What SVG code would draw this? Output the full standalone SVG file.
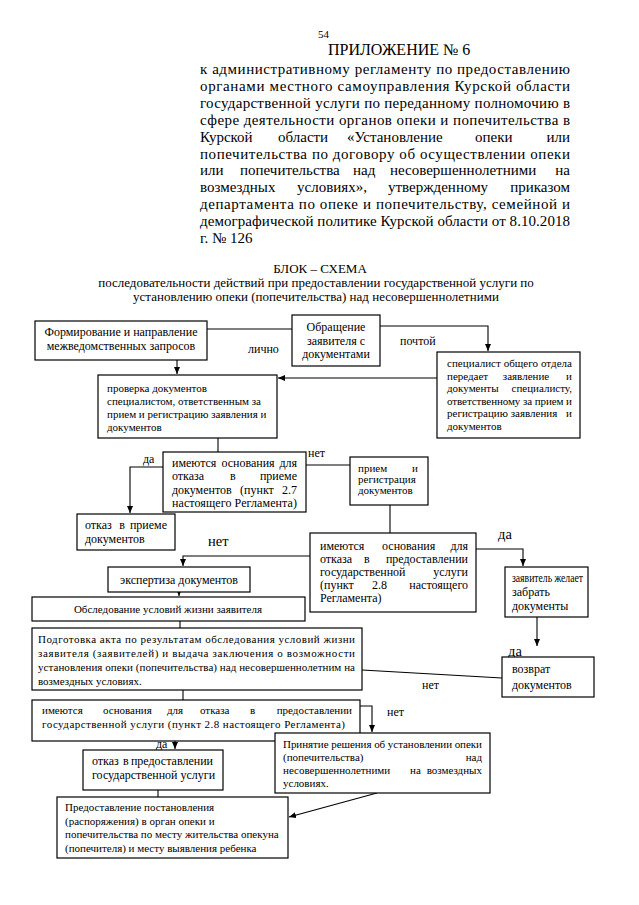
<svg xmlns="http://www.w3.org/2000/svg" width="639" height="905" viewBox="0 0 639 905">
<style>
text{font-family:"Liberation Serif","Times New Roman",serif;fill:#000}
.h{font-size:15px}
.s{font-size:13px}
.f11{font-size:11px}
.f12{font-size:12px}
.f14{font-size:14.5px}
.b{fill:#fff;stroke:#000;stroke-width:1.2}
.c path{fill:none;stroke:#000;stroke-width:1.1}
.a{marker-end:url(#ar)}
</style>
<defs>
<marker id="ar" markerUnits="userSpaceOnUse" markerWidth="8" markerHeight="8" refX="7" refY="3" orient="auto">
<path d="M0,0 L7,3 L0,6 Z" fill="#000"/>
</marker>
</defs>
<rect width="639" height="905" fill="#fff"/>

<g id="header">
<text x="318" y="38" style="font-size:11px">54</text>
<text x="328" y="55" style="font-size:16px">ПРИЛОЖЕНИЕ № 6</text>
<text class="h" x="200" y="74.3" textLength="370" lengthAdjust="spacing">к административному регламенту по предоставлению</text>
<text class="h" x="200" y="91.2" textLength="370" lengthAdjust="spacing">органами местного самоуправления Курской области</text>
<text class="h" x="200" y="108" textLength="370" lengthAdjust="spacing">государственной услуги по переданному полномочию в</text>
<text class="h" x="200" y="124.8" textLength="370" lengthAdjust="spacing">сфере деятельности органов опеки и попечительства в</text>
<text class="h" y="141.6"><tspan x="200">Курской</tspan><tspan x="278">области</tspan><tspan x="347">«Установление</tspan><tspan x="475">опеки</tspan><tspan x="570" text-anchor="end">или</tspan></text>
<text class="h" x="200" y="158.5" textLength="370" lengthAdjust="spacing">попечительства по договору об осуществлении опеки</text>
<text class="h" y="175.3"><tspan x="200">или</tspan><tspan x="240">попечительства</tspan><tspan x="353">над</tspan><tspan x="390">несовершеннолетними</tspan><tspan x="570" text-anchor="end">на</tspan></text>
<text class="h" y="192.1"><tspan x="200">возмездных</tspan><tspan x="297">условиях»,</tspan><tspan x="388">утвержденному</tspan><tspan x="570" text-anchor="end">приказом</tspan></text>
<text class="h" x="200" y="209" textLength="370" lengthAdjust="spacing">департамента по опеке и попечительству, семейной и</text>
<text class="h" x="200" y="225.8" textLength="370" lengthAdjust="spacing">демографической политике Курской области от 8.10.2018</text>
<text class="h" x="200" y="242.6">г. № 126</text>
<text class="s" x="320" y="273" text-anchor="middle">БЛОК – СХЕМА</text>
<text class="s" x="316" y="287" text-anchor="middle">последовательности действий при предоставлении государственной услуги по</text>
<text class="s" x="316" y="301" text-anchor="middle">установлению опеки (попечительства) над несовершеннолетними</text>
</g>

<g id="connectors" class="c">
<path d="M207,329 H292"/>
<path class="a" d="M380,326 H488 V351"/>
<path class="a" d="M437,378 H278"/>
<path class="a" d="M177,360 V374"/>
<path d="M218,438 V452"/>
<path class="a" d="M163,467 H130 V513"/>
<path d="M306,465 H350"/>
<path d="M390,505 V533"/>
<path class="a" d="M310,556 H183 V566"/>
<path class="a" d="M476,549 H523 V566"/>
<path class="a" d="M179,592 V596"/>
<path d="M180,621 V628"/>
<path class="a" d="M537,617 V646"/>
<path d="M362,670 L502,678"/>
<path d="M183,690 V700"/>
<path class="a" d="M360,706 H372 V732"/>
<path class="a" d="M175,741 V749"/>
<path d="M158,790 V797"/>
<path class="a" d="M377,793 L289,817"/>
</g>

<g id="labels">
<text class="f12" x="248" y="353">лично</text>
<text class="f12" x="400" y="345">почтой</text>
<text class="f12" x="143" y="463">да</text>
<text class="f12" x="308" y="457">нет</text>
<text class="f14" x="208" y="546">нет</text>
<text class="f14" x="498" y="539">да</text>
<text class="f14" x="508" y="656">да</text>
<text class="f12" x="422" y="689">нет</text>
<text class="f12" x="387" y="716">нет</text>
<text class="f12" x="156" y="748">да</text>
</g>

<g id="nodeA">
<rect class="b" x="35" y="321" width="172" height="39"/>
<text class="f12" x="121" y="336" text-anchor="middle">Формирование и направление</text>
<text class="f12" x="121" y="350" text-anchor="middle">межведомственных запросов</text>
</g>

<g id="nodeB">
<rect class="b" x="292" y="315" width="88" height="51"/>
<text class="f12" x="336" y="331" text-anchor="middle">Обращение</text>
<text class="f12" x="336" y="345" text-anchor="middle">заявителя с</text>
<text class="f12" x="336" y="358" text-anchor="middle">документами</text>
</g>

<g id="nodeC">
<rect class="b" x="437" y="352" width="143" height="86"/>
<text class="f11" x="447" y="367" textLength="125" lengthAdjust="spacing">специалист общего отдела</text>
<text class="f11" y="379.5"><tspan x="447">передает</tspan><tspan x="526" text-anchor="middle">заявление</tspan><tspan x="572" text-anchor="end">и</tspan></text>
<text class="f11" y="392"><tspan x="447">документы</tspan><tspan x="572" text-anchor="end">специалисту,</tspan></text>
<text class="f11" x="447" y="404.5" textLength="125" lengthAdjust="spacing">ответственному за прием и</text>
<text class="f11" y="417"><tspan x="447">регистрацию</tspan><tspan x="534" text-anchor="middle">заявления</tspan><tspan x="572" text-anchor="end">и</tspan></text>
<text class="f11" x="447" y="429.5">документов</text>
</g>

<g id="nodeD">
<rect class="b" x="98" y="375" width="179" height="63"/>
<text class="f11" x="107" y="392">проверка документов</text>
<text class="f11" x="107" y="405">специалистом, ответственным за</text>
<text class="f11" x="107" y="418">прием и регистрацию заявления и</text>
<text class="f11" x="107" y="431">документов</text>
</g>

<g id="nodeE">
<rect class="b" x="163" y="452" width="143" height="60"/>
<text class="f12" y="467"><tspan x="172">имеются</tspan><tspan x="248" text-anchor="middle">основания</tspan><tspan x="297" text-anchor="end">для</tspan></text>
<text class="f12" y="480"><tspan x="172">отказа</tspan><tspan x="230">в</tspan><tspan x="297" text-anchor="end">приеме</tspan></text>
<text class="f12" y="493.5"><tspan x="172">документов</tspan><tspan x="257" text-anchor="middle">(пункт</tspan><tspan x="297" text-anchor="end">2.7</tspan></text>
<text class="f12" x="172" y="507" textLength="125" lengthAdjust="spacing">настоящего Регламента)</text>
</g>

<g id="nodeF">
<rect class="b" x="77" y="514" width="98" height="36"/>
<text class="f12" y="529"><tspan x="85">отказ</tspan><tspan x="122" text-anchor="middle">в</tspan><tspan x="167" text-anchor="end">приеме</tspan></text>
<text class="f12" x="85" y="543">документов</text>
</g>

<g id="nodeG">
<rect class="b" x="350" y="457" width="78" height="48"/>
<text class="f11" y="472"><tspan x="358">прием</tspan><tspan x="418" text-anchor="end">и</tspan></text>
<text class="f11" x="358" y="483">регистрация</text>
<text class="f11" x="358" y="494">документов</text>
</g>

<g id="nodeH">
<rect class="b" x="310" y="533" width="166" height="79"/>
<text class="f12" y="550"><tspan x="320">имеются</tspan><tspan x="382">основания</tspan><tspan x="468" text-anchor="end">для</tspan></text>
<text class="f12" y="563"><tspan x="320">отказа</tspan><tspan x="364">в</tspan><tspan x="468" text-anchor="end">предоставлении</tspan></text>
<text class="f12" y="576"><tspan x="320">государственной</tspan><tspan x="468" text-anchor="end">услуги</tspan></text>
<text class="f12" y="589"><tspan x="320">(пункт</tspan><tspan x="372">2.8</tspan><tspan x="468" text-anchor="end">настоящего</tspan></text>
<text class="f12" x="320" y="602">Регламента)</text>
</g>

<g id="nodeI">
<rect class="b" x="505" y="567" width="83" height="50"/>
<text class="f12" x="512" y="582" textLength="71" lengthAdjust="spacingAndGlyphs">заявитель желает</text>
<text class="f12" x="512" y="596">забрать</text>
<text class="f12" x="512" y="610">документы</text>
</g>

<g id="nodeL">
<rect class="b" x="108" y="567" width="142" height="25"/>
<text class="f12" x="179" y="584" text-anchor="middle">экспертиза документов</text>
</g>

<g id="nodeM">
<rect class="b" x="32" y="597" width="273" height="24"/>
<text class="f11" x="168" y="613" text-anchor="middle">Обследование условий жизни заявителя</text>
</g>

<g id="nodeK">
<rect class="b" x="32" y="628" width="330" height="62"/>
<text class="f11" x="38" y="643" textLength="317" lengthAdjust="spacing">Подготовка акта по результатам обследования условий жизни</text>
<text class="f11" x="38" y="657" textLength="317" lengthAdjust="spacing">заявителя (заявителей) и выдача заключения о возможности</text>
<text class="f11" x="38" y="671" textLength="317" lengthAdjust="spacing">установления опеки (попечительства) над несовершеннолетним на</text>
<text class="f11" x="38" y="685">возмездных условиях.</text>
</g>

<g id="nodeJ">
<rect class="b" x="502" y="657" width="92" height="40"/>
<text class="f12" x="512" y="673">возврат</text>
<text class="f12" x="512" y="689">документов</text>
</g>

<g id="nodeN">
<rect class="b" x="32" y="700" width="328" height="41"/>
<text class="f11" y="714"><tspan x="42">имеются</tspan><tspan x="103">основания</tspan><tspan x="167">для</tspan><tspan x="200">отказа</tspan><tspan x="250">в</tspan><tspan x="352" text-anchor="end">предоставлении</tspan></text>
<text class="f11" x="42" y="728" textLength="303" lengthAdjust="spacing">государственной услуги (пункт 2.8 настоящего Регламента)</text>
</g>

<g id="nodeO">
<rect class="b" x="275" y="733" width="215" height="60"/>
<text class="f11" x="283" y="748" textLength="199" lengthAdjust="spacing">Принятие решения об установлении опеки</text>
<text class="f11" y="761"><tspan x="283">(попечительства)</tspan><tspan x="482" text-anchor="end">над</tspan></text>
<text class="f11" y="774"><tspan x="283">несовершеннолетними</tspan><tspan x="410">на</tspan><tspan x="482" text-anchor="end">возмездных</tspan></text>
<text class="f11" x="283" y="787">условиях.</text>
</g>

<g id="nodeP">
<rect class="b" x="83" y="750" width="140" height="40"/>
<text class="f12" y="765"><tspan x="92">отказ</tspan><tspan x="123">в</tspan><tspan x="213" text-anchor="end">предоставлении</tspan></text>
<text class="f12" x="92" y="779">государственной услуги</text>
</g>

<g id="nodeQ">
<rect class="b" x="57" y="797" width="231" height="61"/>
<text class="f11" x="65" y="811">Предоставление постановления</text>
<text class="f11" x="65" y="824.5">(распоряжения) в орган опеки и</text>
<text class="f11" x="65" y="838">попечительства по месту жительства опекуна</text>
<text class="f11" x="65" y="851.5">(попечителя) и месту выявления ребенка</text>
</g>
</svg>
